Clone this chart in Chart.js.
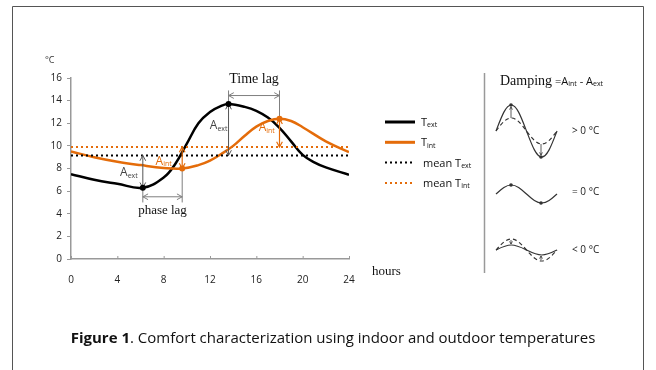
<!DOCTYPE html>
<html>
<head>
<meta charset="utf-8">
<script src="https://cdn.jsdelivr.net/npm/chart.js@4.4.0/dist/chart.umd.min.js"></script>
<style>
  html, body { margin: 0; padding: 0; background: #fff; }
  canvas { display: block; }
</style>
</head>
<body>
<canvas id="chart" width="656" height="370"></canvas>
<script>
// readings (hours, degC)
const extHours = [0, 2, 4, 6.2, 8, 9, 10, 11, 12, 13, 13.6, 15, 16, 17, 18, 19, 20, 21, 22, 24];
const extTemp  = [7.5, 7.0, 6.65, 6.3, 7.2, 8.4, 10.2, 12.0, 13.0, 13.55, 13.7, 13.45, 13.1, 12.5, 11.6, 10.4, 9.2, 8.55, 8.1, 7.45];
const intHours = [0, 2, 4, 6, 8, 9.6, 11, 12, 13, 14, 15, 16, 17, 18, 19, 20, 22, 24];
const intTemp  = [9.5, 9.0, 8.6, 8.3, 8.05, 8.0, 8.3, 8.7, 9.3, 10.0, 10.9, 11.7, 12.2, 12.4, 12.2, 11.65, 10.4, 9.45];
const meanExt = 9.15;
const meanInt = 9.9;
const extMin = [6.2, 6.3], extMax = [13.6, 13.7];
const intMin = [9.6, 8.0], intMax = [18, 12.4];
const xTicks = [0, 4, 8, 12, 16, 20, 24];
const yTicks = [0, 2, 4, 6, 8, 10, 12, 14, 16];

const ORANGE = '#E46C0A';
const GREY = '#7f7f7f';
const SANS = '"Open Sans", "Noto Sans", sans-serif';
const SERIF = '"Liberation Serif", "DejaVu Serif", serif';

const pts = (xs, ys) => xs.map((x, k) => ({ x: x, y: ys[k] }));

function arrowHead(ctx, x, y, ang, size) {
  ctx.beginPath();
  ctx.moveTo(x - size * Math.cos(ang - 0.5), y - size * Math.sin(ang - 0.5));
  ctx.lineTo(x, y);
  ctx.lineTo(x - size * Math.cos(ang + 0.5), y - size * Math.sin(ang + 0.5));
  ctx.stroke();
}
function dblArrow(ctx, x1, y1, x2, y2, color, w) {
  ctx.save();
  ctx.strokeStyle = color;
  ctx.lineWidth = w || 1;
  ctx.beginPath(); ctx.moveTo(x1, y1); ctx.lineTo(x2, y2); ctx.stroke();
  const ang = Math.atan2(y2 - y1, x2 - x1);
  arrowHead(ctx, x2, y2, ang, 6);
  arrowHead(ctx, x1, y1, ang + Math.PI, 6);
  ctx.restore();
}
function oneArrow(ctx, x1, y1, x2, y2) {
  ctx.beginPath(); ctx.moveTo(x1, y1); ctx.lineTo(x2, y2); ctx.stroke();
  arrowHead(ctx, x2, y2, Math.atan2(y2 - y1, x2 - x1), 3);
}
function line(ctx, x1, y1, x2, y2, color, w) {
  ctx.save();
  ctx.strokeStyle = color; ctx.lineWidth = w || 1;
  ctx.beginPath(); ctx.moveTo(x1, y1); ctx.lineTo(x2, y2); ctx.stroke();
  ctx.restore();
}
function subText(ctx, main, sub, x, y, size, color, align) {
  ctx.save();
  ctx.fillStyle = color;
  ctx.textBaseline = 'alphabetic';
  ctx.font = size + 'px ' + SANS;
  const w1 = ctx.measureText(main).width;
  ctx.font = Math.round(size * 0.62) + 'px ' + SANS;
  const w2 = ctx.measureText(sub).width;
  let sx = x;
  if (align === 'center') sx = x - (w1 + w2) / 2;
  ctx.font = size + 'px ' + SANS;
  ctx.textAlign = 'left';
  ctx.fillText(main, sx, y);
  ctx.font = Math.round(size * 0.62) + 'px ' + SANS;
  ctx.fillText(sub, sx + w1, y + size * 0.12);
  ctx.restore();
}

// one period of a wave from bezier pieces, for the damping sketches
function wave(ctx, x0, w, cy, amp) {
  const q = w / 4, k = 0.36 * q;
  ctx.beginPath();
  ctx.moveTo(x0, cy);
  ctx.bezierCurveTo(x0 + k, cy - amp * 0.55, x0 + q - k, cy - amp, x0 + q, cy - amp);
  ctx.bezierCurveTo(x0 + q + k, cy - amp, x0 + 2 * q - k, cy - amp * 0.55, x0 + 2 * q, cy);
  ctx.bezierCurveTo(x0 + 2 * q + k, cy + amp * 0.55, x0 + 3 * q - k, cy + amp, x0 + 3 * q, cy + amp);
  ctx.bezierCurveTo(x0 + 3 * q + k, cy + amp, x0 + 4 * q - k, cy + amp * 0.55, x0 + 4 * q, cy);
  ctx.stroke();
}
function dot(ctx, x, y, r, c) {
  ctx.save(); ctx.fillStyle = c; ctx.beginPath(); ctx.arc(x, y, r, 0, Math.PI * 2); ctx.fill(); ctx.restore();
}

const figurePlugin = {
  id: 'figure',
  afterDraw(chart) {
    const ctx = chart.ctx;
    const xs = chart.scales.x, ys = chart.scales.y;
    const X = v => xs.getPixelForValue(v), Y = v => ys.getPixelForValue(v);
    const ca = chart.chartArea;

    // frame
    ctx.save();
    ctx.strokeStyle = '#555'; ctx.lineWidth = 1;
    ctx.beginPath();
    ctx.moveTo(12.5, 370); ctx.lineTo(12.5, 6.5); ctx.lineTo(643.5, 6.5); ctx.lineTo(643.5, 370);
    ctx.stroke();
    ctx.restore();

    // x ticks pointing up
    xTicks.forEach(t => line(ctx, X(t) + 0.5, ca.bottom, X(t) + 0.5, ca.bottom - 3, '#999', 1));

    // unit labels
    ctx.save();
    ctx.fillStyle = '#333';
    ctx.font = '9px ' + SANS;
    ctx.textAlign = 'left'; ctx.textBaseline = 'middle';
    ctx.fillText('\u00B0C', 45, 60);
    ctx.font = '13px ' + SERIF;
    ctx.fillStyle = '#111';
    ctx.fillText('hours', 372, 272);
    ctx.restore();

    // phase lag
    line(ctx, X(extMin[0]), Y(extMin[1]), X(extMin[0]), Y(5.0), GREY, 1);
    line(ctx, X(intMin[0]), Y(intMin[1]), X(intMin[0]), Y(5.0), GREY, 1);
    dblArrow(ctx, X(extMin[0]), Y(5.5), X(intMin[0]), Y(5.5), GREY, 1);
    ctx.save();
    ctx.fillStyle = '#111';
    ctx.textAlign = 'center'; ctx.textBaseline = 'middle';
    ctx.font = '13px ' + SERIF;
    ctx.fillText('phase lag', X(7.9), Y(4.25));
    ctx.font = '14px ' + SERIF;
    ctx.fillText('Time lag', X(15.8), Y(15.9));
    ctx.restore();
    dblArrow(ctx, X(extMin[0]), Y(meanExt), X(extMin[0]), Y(extMin[1]), '#555', 1);
    dblArrow(ctx, X(intMin[0]), Y(meanInt), X(intMin[0]), Y(intMin[1]), ORANGE, 1.2);
    subText(ctx, 'A', 'ext', X(5.0), Y(7.3), 12, '#444', 'center');
    subText(ctx, 'A', 'int', X(8.0), Y(8.35), 12, ORANGE, 'center');

    // time lag
    line(ctx, X(extMax[0]), Y(14.9), X(extMax[0]), Y(extMax[1]), GREY, 1);
    line(ctx, X(intMax[0]), Y(14.9), X(intMax[0]), Y(intMax[1]), GREY, 1);
    dblArrow(ctx, X(extMax[0]), Y(14.45), X(intMax[0]), Y(14.45), GREY, 1);
    dblArrow(ctx, X(extMax[0]), Y(extMax[1]), X(extMax[0]), Y(meanExt), '#555', 1);
    dblArrow(ctx, X(intMax[0]), Y(intMax[1]), X(intMax[0]), Y(meanInt), ORANGE, 1.2);
    subText(ctx, 'A', 'ext', X(12.75), Y(11.45), 12, '#444', 'center');
    subText(ctx, 'A', 'int', X(16.9), Y(11.3), 12, ORANGE, 'center');

    // marker dots on top
    [extMin, extMax].forEach(p => dot(ctx, X(p[0]), Y(p[1]), 3, '#000'));
    [intMin, intMax].forEach(p => dot(ctx, X(p[0]), Y(p[1]), 3, ORANGE));

    // legend
    const rows = [
      { main: 'T', sub: 'ext', color: '#000', dash: [] },
      { main: 'T', sub: 'int', color: ORANGE, dash: [] },
      { main: 'mean T', sub: 'ext', color: '#000', dash: [2, 3] },
      { main: 'mean T', sub: 'int', color: ORANGE, dash: [2, 3] }
    ];
    rows.forEach((r, k) => {
      const yy = 122 + k * 20.3;
      ctx.save();
      ctx.strokeStyle = r.color;
      ctx.lineWidth = r.dash.length ? 2 : 3;
      ctx.setLineDash(r.dash);
      ctx.beginPath(); ctx.moveTo(385, yy); ctx.lineTo(415, yy); ctx.stroke();
      ctx.restore();
      subText(ctx, r.main, r.sub, r.dash.length ? 423 : 421, yy + 4, 11, '#111');
    });

    // right panel
    line(ctx, 484.5, 73, 484.5, 273, '#999', 1.5);
    ctx.save();
    ctx.font = '14px ' + SERIF; ctx.fillStyle = '#111';
    ctx.textBaseline = 'alphabetic';
    ctx.fillText('Damping', 500, 85);
    ctx.font = '11px ' + SANS;
    ctx.fillText('=A', 555, 85);
    let wx = 555 + ctx.measureText('=A').width;
    ctx.font = '7px ' + SANS; ctx.fillText('int', wx, 86); wx += ctx.measureText('int').width;
    ctx.font = '11px ' + SANS; ctx.fillText(' - A', wx, 85); wx += ctx.measureText(' - A').width;
    ctx.font = '7px ' + SANS; ctx.fillText('ext', wx, 86);
    ctx.restore();

    ctx.save();
    ctx.strokeStyle = '#333'; ctx.lineWidth = 1.2;
    // > 0
    wave(ctx, 496, 61, 131, 26);
    ctx.setLineDash([4, 3]);
    wave(ctx, 496, 61, 131, 13);
    ctx.setLineDash([]);
    ctx.lineWidth = 0.8;
    oneArrow(ctx, 511, 118, 511, 107);
    oneArrow(ctx, 541, 144, 541, 155);
    ctx.lineWidth = 1.2;
    // = 0
    wave(ctx, 496, 61, 194, 9);
    // < 0
    wave(ctx, 496, 61, 250, 5);
    ctx.setLineDash([4, 3]);
    wave(ctx, 496, 61, 250, 11);
    ctx.setLineDash([]);
    ctx.lineWidth = 0.8;
    oneArrow(ctx, 511, 240, 511, 244);
    oneArrow(ctx, 541, 260, 541, 256);
    ctx.restore();
    dot(ctx, 511, 105, 1.8, '#333'); dot(ctx, 541, 157, 1.8, '#333');
    dot(ctx, 511, 185, 1.8, '#333'); dot(ctx, 541, 203, 1.8, '#333');

    ctx.save();
    ctx.font = '10px ' + SANS; ctx.fillStyle = '#222';
    ctx.textBaseline = 'middle';
    ctx.fillText('> 0 \u00B0C', 572, 131);
    ctx.fillText('= 0 \u00B0C', 572, 192);
    ctx.fillText('< 0 \u00B0C', 572, 250);
    ctx.restore();

    // caption
    ctx.save();
    ctx.textBaseline = 'alphabetic';
    ctx.fillStyle = '#111';
    ctx.font = 'bold 15px ' + SANS;
    const a = 'Figure 1';
    const b = '. Comfort characterization using indoor and outdoor temperatures';
    const wa = ctx.measureText(a).width;
    ctx.font = '15px ' + SANS;
    const wb = ctx.measureText(b).width;
    const cx = 333 - (wa + wb) / 2;
    ctx.font = 'bold 15px ' + SANS;
    ctx.fillText(a, cx, 343);
    ctx.font = '15px ' + SANS;
    ctx.fillText(b, cx + wa, 343);
    ctx.restore();
  }
};

new Chart(document.getElementById('chart'), {
  type: 'line',
  data: {
    datasets: [
      { label: 'mean Text', data: pts([0, 24], [meanExt, meanExt]), borderColor: '#000', borderWidth: 2, borderDash: [2, 3], pointRadius: 0, tension: 0 },
      { label: 'mean Tint', data: pts([0, 24], [meanInt, meanInt]), borderColor: ORANGE, borderWidth: 2, borderDash: [2, 3], pointRadius: 0, tension: 0 },
      { label: 'Tint', data: pts(intHours, intTemp), borderColor: ORANGE, borderWidth: 2.5, pointRadius: 0, tension: 0.4 },
      { label: 'Text', data: pts(extHours, extTemp), borderColor: '#000', borderWidth: 2.5, pointRadius: 0, tension: 0.4 }
    ]
  },
  options: {
    responsive: false,
    animation: false,
    layout: { padding: { left: 0, top: 78, right: 307, bottom: 0 } },
    plugins: { legend: { display: false }, tooltip: { enabled: false } },
    scales: {
      x: {
        type: 'linear', min: 0, max: 24,
        afterFit: s => { s.height = 111; },
        afterBuildTicks: s => { s.ticks = xTicks.map(v => ({ value: v })); },
        grid: { display: false },
        border: { display: true, color: '#999', width: 1.5 },
        ticks: { padding: 7, font: { family: SANS, size: 10 }, color: '#222', maxRotation: 0 }
      },
      y: {
        min: 0, max: 16,
        afterFit: s => { s.width = 71; },
        afterBuildTicks: s => { s.ticks = yTicks.map(v => ({ value: v })); },
        grid: { display: true, drawOnChartArea: false, drawTicks: true, tickLength: 4, color: '#999' },
        border: { display: true, color: '#999', width: 1.5 },
        ticks: { padding: 5, font: { family: SANS, size: 10 }, color: '#222' }
      }
    }
  },
  plugins: [figurePlugin]
});
</script>
</body>
</html>
